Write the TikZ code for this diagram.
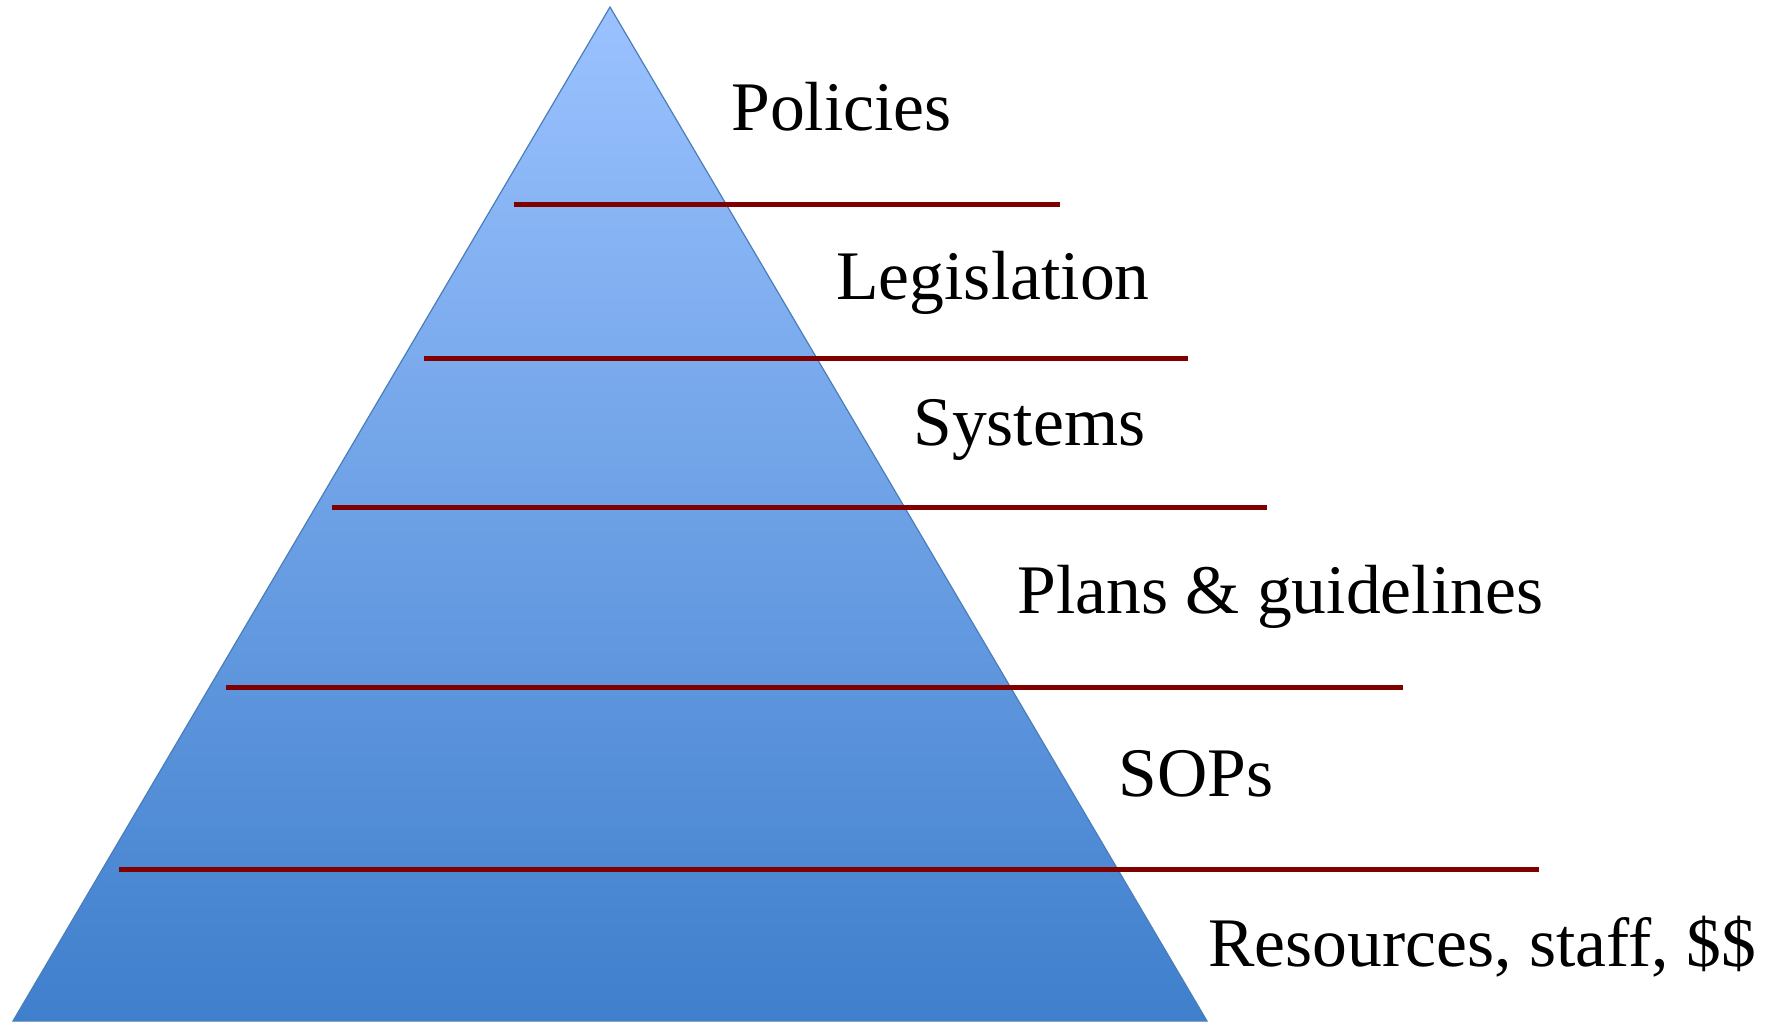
\documentclass[tikz,border=0pt]{standalone}
\usepackage{fontspec}
\setmainfont{Liberation Serif}
\definecolor{pyrtop}{HTML}{9BC2FF}
\definecolor{pyrbot}{HTML}{3F7FCC}
\definecolor{pyredge}{HTML}{4A7EBB}
\definecolor{tierline}{HTML}{800000}
\tikzset{
  tier/.style={draw=tierline, line width=2.5pt},
  tierlabel/.style={anchor=base west, inner sep=0pt, font=\fontsize{34.8pt}{38pt}\selectfont}
}

\begin{document}
\begin{tikzpicture}[x=0.5pt,y=0.5pt,yscale=-1,xscale=1]
        \useasboundingbox (0,0) rectangle (1772,1024);
        %Pyramid
        \draw[draw=pyredge, line width=0.6pt, top color=pyrtop, bottom color=pyrbot] (610,7) -- (1207,1021) -- (13,1021) -- cycle;
        %Straight Lines
        \draw[tier] (514,204) -- (1060,204);
        \draw[tier] (424,358) -- (1188,358);
        \draw[tier] (332,507) -- (1267,507);
        \draw[tier] (226,687) -- (1403,687);
        \draw[tier] (119,869) -- (1539,869);
        %Labels
        \node[tierlabel] (policies) at (731,130) {Policies};
        \node[tierlabel] (legislation) at (836,299) {Legislation};
        \node[tierlabel] (systems) at (913,445) {Systems};
        \node[tierlabel] (plans) at (1017,613) {Plans \& guidelines};
        \node[tierlabel] (sops) at (1118,796) {SOPs};
        \node[tierlabel] (resources) at (1208,966) {Resources, staff, \$\$};
    \end{tikzpicture}
\end{document}
